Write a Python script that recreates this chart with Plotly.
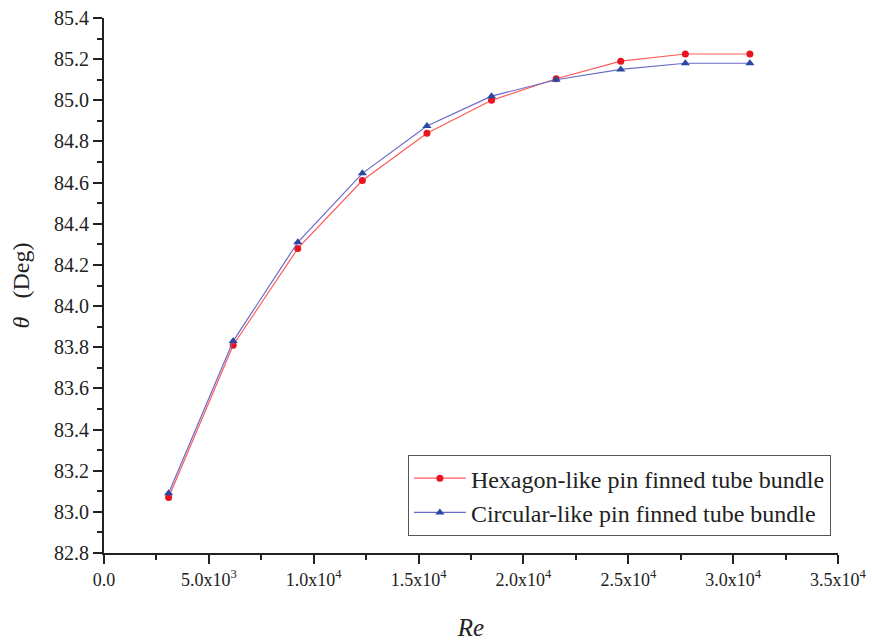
import plotly.graph_objects as go

re_vals = [3080, 6160, 9240, 12320, 15400, 18480, 21560, 24640, 27720, 30800]
hexagon = [83.07, 83.81, 84.28, 84.61, 84.84, 85.00, 85.105, 85.19, 85.225, 85.225]
circular = [83.09, 83.83, 84.31, 84.645, 84.875, 85.02, 85.10, 85.15, 85.18, 85.18]

x_tickvals = [0, 5000, 10000, 15000, 20000, 25000, 30000, 35000]
x_ticktext = ["0.0", "5.0x10<sup>3</sup>", "1.0x10<sup>4</sup>", "1.5x10<sup>4</sup>",
              "2.0x10<sup>4</sup>", "2.5x10<sup>4</sup>", "3.0x10<sup>4</sup>", "3.5x10<sup>4</sup>"]

font_family = "Liberation Serif"

fig = go.Figure()
fig.add_trace(go.Scatter(
    x=re_vals, y=hexagon, mode="lines+markers",
    name="Hexagon-like pin finned tube bundle",
    line=dict(color="#ff5a5a", width=1.2),
    marker=dict(symbol="circle", size=7, color="#e8141e"),
))
fig.add_trace(go.Scatter(
    x=re_vals, y=circular, mode="lines+markers",
    name="Circular-like pin finned tube bundle",
    line=dict(color="#6a6ac8", width=1.2),
    marker=dict(symbol="triangle-up", size=8, color="#2a48a0"),
))

fig.update_layout(
    width=872, height=641,
    margin=dict(l=104, r=34, t=18, b=88),
    paper_bgcolor="white", plot_bgcolor="white",
    font=dict(family=font_family, color="#222222", size=19),
    showlegend=True,
    legend=dict(
        x=0.414, y=0.183, xanchor="left", yanchor="top",
        bgcolor="white", bordercolor="#555555", borderwidth=1,
        font=dict(family=font_family, size=24, color="#222222"),
        itemwidth=52, tracegroupgap=0,
    ),
    xaxis=dict(
        range=[0, 35000], tickvals=x_tickvals, ticktext=x_ticktext,
        automargin=False,
        showgrid=False, zeroline=False,
        showline=True, linecolor="#222222", linewidth=2,
        ticks="outside", ticklen=9, tickwidth=2, tickcolor="#222222",
        minor=dict(dtick=2500, ticks="outside", ticklen=5, tickwidth=1.5, tickcolor="#222222", showgrid=False),
        tickfont=dict(family=font_family, size=18, color="#222222"),
        title=dict(text="<i>Re</i>", font=dict(family=font_family, size=25, color="#222222"), standoff=30),
    ),
    yaxis=dict(
        range=[82.8, 85.4], dtick=0.2, tickformat=".1f",
        automargin=False,
        showgrid=False, zeroline=False,
        showline=True, linecolor="#222222", linewidth=2,
        ticks="outside", ticklen=9, tickwidth=2, tickcolor="#222222",
        minor=dict(dtick=0.1, ticks="outside", ticklen=5, tickwidth=1.5, tickcolor="#222222", showgrid=False),
        tickfont=dict(family=font_family, size=20, color="#222222"),
        title=dict(text="<i>θ</i>   (Deg)", font=dict(family=font_family, size=24, color="#222222"), standoff=18),
    ),
)

fig.write_html("out.html")
